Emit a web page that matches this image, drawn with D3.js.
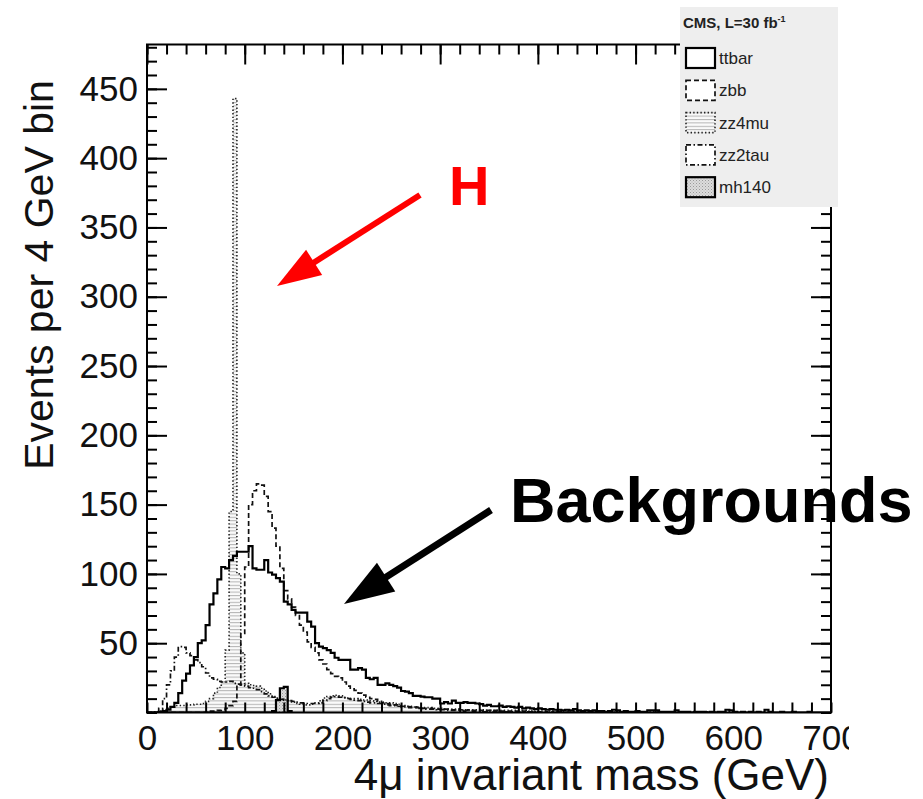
<!DOCTYPE html>
<html>
<head>
<meta charset="utf-8">
<script src="https://cdn.jsdelivr.net/npm/d3@7"></script>
<style>
  html, body { margin: 0; padding: 0; background: #fff; }
  svg { display: block; }
  text { font-family: "Liberation Sans", Arial, Helvetica, sans-serif; }
</style>
</head>
<body>
<svg id="chart" width="923" height="799"></svg>
<script>
// 4-muon invariant mass, events per 4 GeV bin, bins start at 0 GeV
const binWidth = 4;

const ttbar = [
  0,0,0,0.5,1,2,4,7,14,23,
  28,34,40,50,52,63,78,86,96,105,
  104,110,113,116,116,116,120,104,103,103,
  110,101,99.5,97,94.5,80,78,74,72,72,
  72,65.5,62,50,47.5,46.5,45,43,39.5,38,
  38,38,31,31,32,31,25,24,25,20,
  20,21,20,19,18,15.5,15,14,12,12,
  11.5,11,11,10,10,6.5,7.5,6.5,8.5,7,
  7,7.5,7,7,6.5,6,5,5.5,4.5,4.5,
  5,4,4.5,4,3.5,4,3,3.5,3,2.5,
  3,2.5,2,2.5,2,2,1.5,2,1.5,2.5,
  1.5,1,1.5,1,1.5,1,1,0.5,1,2,
  1.5,0.5,1,0.5,0.5,1,0.5,0.5,1.5,1.5,
  1.5,0.5,0.5,0.5,0.5,1.5,0.5,0.5,0.5,0,
  0.5,0.5,0.5,0,0.5,0,0.5,0.5,2,1.5,
  0.5,0,0.5,0,0.5,0,0.5,0,2,0.5,
  0,0,0.5,0,0,0.5,0,0,0,0.5,
  0,0,0,0,0
];

const zbb = [
  0,0,0,0,0,0,0,0,0,0,
  0,0,0,0,0,0.5,1,1,1.5,2,
  3,5,8,20,57,105,150,160,165,164,
  156,145,133,120,104,88,82,76,70,63,
  58,51,47,43,38,35,31,28,26,25,
  22,19,17,16,14,12.5,11,10,9.5,8,
  7,6.5,6,5.5,5,4.5,4.2,4,4,3.5,
  3,3,3,2.5,2.5,2,2.5,2,2,2.5,
  2,1.5,2,1.5,1.5,1.5,1,1.5,1,1.5,
  1,1,1,0.5,1,0.5,1,0.5,0.5,0.5,
  0.5,0,0.5,0.5,0,0.5,0,0,0.5,0
];

const zz4mu = [
  0,0,0.5,1,2,3,4,5,5,5,
  5.5,5.5,6,6,6.5,8,10,14,18,22,
  45,145,443,100,43,21,20,19.5,19,17.5,
  15.5,13.5,11.5,10.5,9.5,9,8.5,7.5,6.5,6,
  5.5,5.5,6,7,8.5,10.5,11.5,12,12.5,12,
  11,10.5,10,10,9.5,9,9,8.5,8,7.5,
  7.5,7,7,6.5,6,5,4.5,4.5,4,4,
  3.5,3.5,3.5,3,3,3,2.5,2.5,2.5,2.5,
  2,2,2,2,2,2,1.5,1.5,1.5,1.5,
  1.5,1.5,1.5,1.5,1.5,1.5,1.5,1,1.5,1,
  1,1,1,1,1,1,1,1,1,1,
  1,1,1,1,0.5,1,0.5,1,0.5,0.5,
  0.5,0.5,0.5,0.5,0.5,0.5,0.5,0.5,0.5,0.5,
  0.5,0.5,0.5,0.5,0.5,0.5,0.5,0.5,0.5,0.5,
  0.5,0.5,0.5,0.5,0.5,0.5,0.5,0.5,0.5,0.5
];

const zz2tau = [
  0,0,0.5,3,10,20,30,40,47.5,47,
  43,41,38,36,33,28.5,25,24,22.5,22,
  22,22.5,21,20.5,20,19,18,17.5,16.5,15,
  13.5,12,11,10,9.5,9,8.5,8,7.5,7,
  6.5,6.5,6.5,6.5,7,8.5,10,11,11.5,11,
  10.5,10,9.5,9,8.5,8,7.5,7,7,6.5,
  6,5.5,5,5,4.5,4,4,3.5,3.5,3,
  3,2.5,2.5,2.5,2,2,2,1.5,1.5,1.5,
  1.5,1,1.5,1,1,1,0.5,1,0.5,0.5,
  0.5,0.5,0.5,0.5,0.5,0.5,0.5,0.5,0.5,0.5
];

const mh140 = [
  0,0,0,0,0,0,0,0,0,0,
  0,0,0,0,0,0,0,0,0,0,
  0,0,0,0,0,0,0,0,0,0,
  0,0,1,9,17.5,18.5,1
];

const xMajorTicks = [0, 100, 200, 300, 400, 500, 600, 700];
const yMajorTicks = [50, 100, 150, 200, 250, 300, 350, 400, 450];
const legendNames = ["ttbar", "zbb", "zz4mu", "zz2tau", "mh140"];
const legendTitle = "CMS, L=30 fb";

const svg = d3.select("#chart");
const frame = { left: 147, right: 831, top: 44.5, bottom: 712.5 };

const x = d3.scaleLinear().domain([0, 700]).range([frame.left, frame.right]);
const y = d3.scaleLinear().domain([0, 482]).range([frame.bottom, frame.top]);

// fill patterns
const defs = svg.append("defs");
const hatch = defs.append("pattern").attr("id", "hatch")
  .attr("patternUnits", "userSpaceOnUse").attr("width", 8).attr("height", 3.4);
hatch.append("rect").attr("width", 8).attr("height", 3.4).attr("fill", "#fafafa");
hatch.append("line").attr("x1", 0).attr("x2", 8).attr("y1", 0.5).attr("y2", 0.5)
  .attr("stroke", "#b4b4b4").attr("stroke-width", 1);

const stip = defs.append("pattern").attr("id", "stipple")
  .attr("patternUnits", "userSpaceOnUse").attr("width", 3).attr("height", 3);
stip.append("rect").attr("width", 3).attr("height", 3).attr("fill", "#dcdcdc");
stip.append("rect").attr("width", 1).attr("height", 1).attr("fill", "#9a9a9a");
stip.append("rect").attr("x", 1.5).attr("y", 1.5).attr("width", 1).attr("height", 1).attr("fill", "#b0b0b0");

defs.append("clipPath").attr("id", "plotClip").append("rect")
  .attr("x", frame.left).attr("y", frame.top)
  .attr("width", frame.right - frame.left).attr("height", frame.bottom - frame.top);
defs.append("clipPath").attr("id", "labelClip").append("rect")
  .attr("x", 0).attr("y", 0).attr("width", 849).attr("height", 799);

// step outline of a histogram
function stepPath(vals) {
  let p = `M${x(0)},${y(0)}`;
  vals.forEach((v, i) => {
    p += `V${y(v)}H${x((i + 1) * binWidth)}`;
  });
  p += `V${y(0)}Z`;
  return p;
}

const plot = svg.append("g").attr("clip-path", "url(#plotClip)");

// filled samples
plot.append("path").attr("d", stepPath(zz4mu)).attr("fill", "url(#hatch)").attr("stroke", "none");
plot.append("path").attr("d", stepPath(mh140)).attr("fill", "url(#stipple)").attr("stroke", "none");

const styles = {
  ttbar:  { data: ttbar,  width: 2.2, dash: null,          color: "#000" },
  zbb:    { data: zbb,    width: 1.7, dash: "5,3",         color: "#111" },
  zz4mu:  { data: zz4mu,  width: 1.6, dash: "1.4,2.2",     color: "#222" },
  zz2tau: { data: zz2tau, width: 1.7, dash: "5,2.5,1.5,2.5", color: "#111" },
  mh140:  { data: mh140,  width: 2.2, dash: null,          color: "#000" }
};

["zz4mu", "zz2tau", "zbb", "ttbar", "mh140"].forEach(k => {
  const s = styles[k];
  plot.append("path")
    .attr("d", stepPath(s.data).replace(/Z$/, ""))
    .attr("fill", "none")
    .attr("stroke", s.color)
    .attr("stroke-width", s.width)
    .attr("stroke-dasharray", s.dash);
});

// frame
svg.append("rect")
  .attr("x", frame.left).attr("y", frame.top)
  .attr("width", frame.right - frame.left).attr("height", frame.bottom - frame.top)
  .attr("fill", "none").attr("stroke", "#000").attr("stroke-width", 2);

function styleAxis(g) {
  g.select(".domain").remove();
  g.selectAll(".tick line").attr("stroke", "#000").attr("stroke-width", 2);
}

const xMinor = d3.range(0, 701, 20);
const yMinor = d3.range(0, 482, 10);

// bottom axis, ticks pointing inward
svg.append("g").attr("transform", `translate(0,${frame.bottom})`)
  .call(d3.axisBottom(x).tickValues(xMinor).tickSize(-10).tickFormat(""))
  .call(styleAxis);
const xAxisG = svg.append("g").attr("transform", `translate(0,${frame.bottom})`)
  .attr("clip-path", "url(#labelClip)")
  .call(d3.axisBottom(x).tickValues(xMajorTicks).tickSize(-20).tickPadding(13).tickFormat(d3.format("d")))
  .call(styleAxis);
xAxisG.selectAll("text").attr("font-size", 35).attr("fill", "#111")
  .attr("font-family", "'Liberation Sans', Arial, sans-serif");

// top axis
svg.append("g").attr("transform", `translate(0,${frame.top})`)
  .call(d3.axisTop(x).tickValues(xMinor).tickSize(-10).tickFormat(""))
  .call(styleAxis);
svg.append("g").attr("transform", `translate(0,${frame.top})`)
  .call(d3.axisTop(x).tickValues(xMajorTicks).tickSize(-20).tickFormat(""))
  .call(styleAxis);

// left axis
svg.append("g").attr("transform", `translate(${frame.left},0)`)
  .call(d3.axisLeft(y).tickValues(yMinor).tickSize(-10).tickFormat(""))
  .call(styleAxis);
const yAxisG = svg.append("g").attr("transform", `translate(${frame.left},0)`)
  .call(d3.axisLeft(y).tickValues(yMajorTicks).tickSize(-20).tickPadding(9).tickFormat(d3.format("d")))
  .call(styleAxis);
yAxisG.selectAll("text").attr("font-size", 35).attr("fill", "#111")
  .attr("font-family", "'Liberation Sans', Arial, sans-serif");

// right axis
svg.append("g").attr("transform", `translate(${frame.right},0)`)
  .call(d3.axisRight(y).tickValues(yMinor).tickSize(-10).tickFormat(""))
  .call(styleAxis);
svg.append("g").attr("transform", `translate(${frame.right},0)`)
  .call(d3.axisRight(y).tickValues(yMajorTicks).tickSize(-20).tickFormat(""))
  .call(styleAxis);

// axis titles
svg.append("text")
  .attr("x", 829).attr("y", 790)
  .attr("text-anchor", "end")
  .attr("font-size", 44).attr("fill", "#111")
  .text("4μ invariant mass (GeV)");

svg.append("text")
  .attr("transform", "translate(53,275) rotate(-90)")
  .attr("text-anchor", "middle")
  .attr("font-size", 41).attr("fill", "#111")
  .text("Events per 4 GeV bin");

// legend
const leg = svg.append("g");
leg.append("rect").attr("x", 680).attr("y", 7).attr("width", 158).attr("height", 200)
  .attr("fill", "#eeeeee");
const title = leg.append("text").attr("x", 683).attr("y", 28)
  .attr("font-size", 15).attr("font-weight", "bold").attr("fill", "#222");
title.append("tspan").text(legendTitle);
title.append("tspan").attr("dy", -6).attr("font-size", 9).text("-1");

const legFills = { ttbar: "#fff", zbb: "#fff", zz4mu: "url(#hatch)", zz2tau: "#fff", mh140: "url(#stipple)" };
legendNames.forEach((name, i) => {
  const cy = 58 + i * 32.3;
  const s = styles[name];
  leg.append("rect")
    .attr("x", 686).attr("y", cy - 10).attr("width", 29).attr("height", 20)
    .attr("fill", legFills[name])
    .attr("stroke", s.color).attr("stroke-width", s.width)
    .attr("stroke-dasharray", s.dash);
  leg.append("text").attr("x", 719).attr("y", cy + 6)
    .attr("font-size", 17).attr("fill", "#222").text(name);
});

// annotations
function arrow(x1, y1, x2, y2, color, w, headLen, headHalf) {
  const dx = x2 - x1, dy = y2 - y1, L = Math.hypot(dx, dy);
  const ux = dx / L, uy = dy / L;
  const bx = x2 - ux * headLen, by = y2 - uy * headLen;
  svg.append("line").attr("x1", x1).attr("y1", y1)
    .attr("x2", bx + ux * 2).attr("y2", by + uy * 2)
    .attr("stroke", color).attr("stroke-width", w);
  svg.append("path")
    .attr("d", `M${x2},${y2}L${bx - uy * headHalf},${by + ux * headHalf}L${bx + uy * headHalf},${by - ux * headHalf}Z`)
    .attr("fill", color);
}

svg.append("text").attr("x", 449).attr("y", 205)
  .attr("font-size", 56).attr("font-weight", "bold").attr("fill", "#ff0000").text("H");
arrow(420, 195, 277, 286, "#ff0000", 6, 44, 15);

svg.append("text").attr("x", 510).attr("y", 522)
  .attr("font-size", 63).attr("font-weight", "bold").attr("fill", "#000").text("Backgrounds");
arrow(491, 510, 344, 604, "#000", 7, 50, 17);
</script>
</body>
</html>
